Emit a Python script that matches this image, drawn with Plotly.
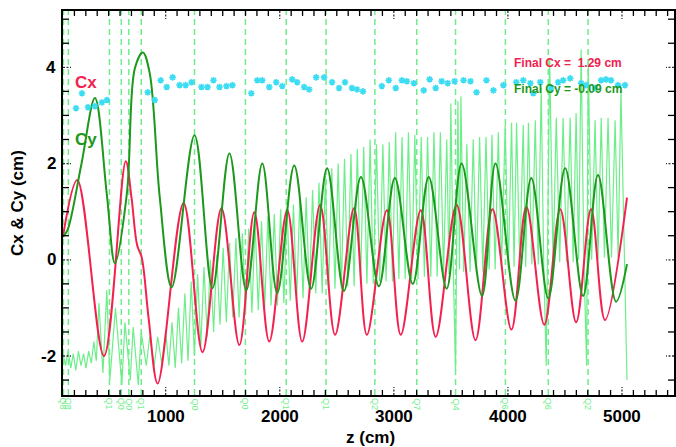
import plotly.graph_objects as go

# ---- beam centroid Cx along z (cm) ----
cx_z = [100, 225, 459, 650, 700, 750, 790, 850, 930, 1157, 1323, 1489, 1646, 1777,
        1908, 2066, 2197, 2354, 2485, 2651, 2764, 2939, 3061, 3236, 3367, 3550, 3716,
        3865, 4031, 4162, 4319, 4459, 4598, 4729, 4851, 5044]
cx_v = [0.49, 1.66, -2.0, 2.05, 1.3, 0.3, 0.05, -1.2, -2.57, 1.18, -1.92, 1.07, -1.77, 0.99,
        -1.7, 1.03, -1.7, 1.14, -1.56, 1.07, -1.56, 1.03, -1.56, 1.03, -1.6, 1.14, -1.67,
        1.05, -1.45, 1.1, -1.35, 1.05, -1.3, 1.05, -1.25, 1.29]

# ---- beam centroid Cy along z (cm) ----
cy_z = [100, 140, 260, 380, 485, 555, 660, 730, 800, 860, 948, 1053, 1253, 1410, 1559,
        1707, 1847, 1978, 2127, 2275, 2415, 2563, 2712, 2869, 3009, 3166, 3306, 3463,
        3594, 3773, 3891, 4066, 4205, 4354, 4502, 4659, 4790, 4948, 5044]
cy_v = [0.48, 0.62, 1.97, 3.36, 1.34, -0.07, 1.38, 3.98, 4.31, 3.88, 1.3, -0.57, 2.59, -0.59, 2.21,
        -0.63, 2.0, -0.69, 1.96, -0.6, 1.9, -0.65, 1.72, -0.55, 1.7, -0.5, 1.72, -0.6,
        2.0, -0.75, 2.0, -0.85, 1.7, -0.8, 1.9, -0.75, 1.76, -0.87, -0.09]

# ---- fast oscillating trace (extrema along z) ----
osc_z = [100, 122, 145, 168, 190, 212, 235, 258, 280, 302, 325, 348, 370, 392, 415,
         450, 484, 511, 560, 616, 643, 690, 715, 760, 785, 830, 860, 900, 930, 965,
         1000, 1028, 1056, 1084, 1112, 1140, 1168, 1196,
         1224, 1252, 1280, 1308, 1336, 1364, 1392, 1420,
         1448, 1476, 1504, 1532, 1560, 1588, 1616, 1644,
         1672, 1700, 1728, 1756, 1784, 1812, 1840, 1868,
         1896, 1924, 1952, 1980, 2008, 2036, 2064, 2092,
         2120, 2148, 2176, 2204, 2232, 2260, 2288, 2316,
         2344, 2372, 2400, 2428, 2456, 2484, 2512, 2540,
         2568, 2596, 2624, 2652, 2680, 2708, 2736, 2764,
         2792, 2820, 2848, 2876, 2904, 2932, 2960, 2988,
         3016, 3044, 3072, 3100, 3128, 3156, 3184, 3212,
         3240, 3268, 3296, 3324, 3352, 3380, 3408, 3436,
         3464, 3484, 3500, 3522, 3541, 3562, 3576, 3588, 3612, 3640, 3668,
         3696, 3724, 3752, 3780, 3808, 3836, 3860, 3888,
         3916, 3944, 3976, 4004, 4032, 4054, 4076, 4104,
         4134, 4156, 4180, 4210, 4240, 4266, 4292, 4314,
         4336, 4366, 4396, 4424, 4454, 4484, 4514, 4546,
         4572, 4598, 4620, 4642, 4666, 4690, 4704, 4734,
         4764, 4790, 4818, 4846, 4878, 4908, 4940, 4966,
         4991, 5044]
osc_v = [-1.95, -2.2, -1.9, -2.25, -1.95, -2.3, -1.9, -2.2, -1.95, -2.25, -1.9, -2.15, -1.7, -2.1, -0.9,
         -2.35, -0.63, -2.5, -1.0, -2.6, -1.3, -2.5, -1.4, -2.6, -1.5, -2.2, -1.6, -2.2, -1.6, -2.15,
         -1.5, -2.2, -1.3, -2.25, -1.0, -2.15, -0.7, -2.1,
         -0.45, -2.0, -0.3, -1.8, -0.15, -1.6, 0.0, -1.5,
         0.1, -1.35, 0.25, -1.3, 0.35, -1.2, 0.45, -1.2,
         0.55, -1.1, 0.65, -1.1, 0.75, -1.05, 0.8, -1.0,
         0.9, -0.95, 0.95, -0.95, 1.05, -0.9, 1.1, -0.85,
         1.15, -0.85, 1.25, -0.8, 1.3, -0.75, 1.45, -0.7,
         1.6, -0.7, 1.75, -0.65, 1.9, -0.6, 2.0, -0.6,
         2.1, -0.55, 2.2, -0.55, 2.3, -0.5, 2.35, -0.5,
         2.5, -0.5, 2.4, -0.45, 2.4, -0.45, 2.45, -0.45,
         2.65, -0.4, 2.55, -0.4, 2.65, -0.4, 2.6, -0.4,
         2.55, -0.35, 2.55, -0.35, 2.65, -0.35, 2.65, -0.3,
         2.5, -0.3, 3.25, -0.3, -2.3, 3.3, -0.2, 3.4, -0.25, 2.4, -0.25,
         2.5, -0.25, 2.55, -0.25, 2.55, -0.2, 2.6, -0.2,
         2.65, -0.2, 2.8, -0.2, 2.85, -0.15, 2.85, -0.15,
         2.8, -0.15, 2.85, -0.1, 2.9, -0.1, 3.58, -0.1,
         -2.2, 4.2, -0.1, 2.95, -0.05, 2.95, -0.05, 2.95,
         -0.05, 3.05, 0.0, 4.37, 0.0, -2.2, 4.12, 0.0,
         2.9, 0.0, 2.95, 0.05, 2.95, 0.05, 2.9, 0.05,
         3.52, -2.5]

# ---- marker series ----
star_z = [214, 266, 319, 380, 441, 485,
          843, 904, 956, 1009, 1061, 1122, 1175, 1227, 1314, 1367, 1419, 1472, 1533, 1585,
          1751, 1803, 1847, 1908, 1969, 2022, 2109, 2153, 2214, 2258, 2319, 2389, 2459,
          2520, 2572, 2633, 2677, 2729,
          2895, 2956, 3017, 3070, 3114, 3175, 3262, 3314, 3367, 3419, 3472, 3533, 3611,
          3672, 3725, 3812, 3873, 3961, 4074, 4135, 4197, 4223, 4284, 4380, 4441, 4485,
          4546, 4642, 4686, 4764, 4817, 4860, 4904, 4965, 5026]
star_v = [3.15, 3.46, 3.17, 3.19, 3.27, 3.32,
          3.48, 3.32, 3.73, 3.59, 3.79, 3.63, 3.63, 3.69, 3.59, 3.59, 3.73, 3.59, 3.61, 3.63,
          3.46, 3.73, 3.73, 3.59, 3.69, 3.61, 3.75, 3.69, 3.59, 3.54, 3.79, 3.79, 3.69,
          3.57, 3.69, 3.57, 3.54, 3.50,
          3.61, 3.73, 3.57, 3.73, 3.71, 3.67, 3.52, 3.75, 3.57, 3.71, 3.67, 3.71, 3.73,
          3.71, 3.48, 3.73, 3.52, 3.63, 3.69, 3.73, 3.67, 3.46, 3.69, 3.57, 3.69, 3.73,
          3.77, 3.67, 3.63, 3.57, 3.73, 3.75, 3.73, 3.63, 3.63]

# ---- quadrupole positions (cm) and names ----
quad_z = [104, 147, 507, 611, 677, 786, 1253, 1699, 2057, 2406, 2834, 3201, 3541, 3978, 4354, 4703]
quad_names = ["Q8", "Q8", "Q1", "Q0", "Q0", "Q1", "Q0", "Q0", "Q1", "Q1",
              "Q2", "Q7", "Q4", "Q6", "Q6", "Q2"]

# ---- axes ----
x_range = [100, 5456]
y_range = [-2.81, 5.17]
x_tick_vals = [1000, 2000, 3000, 4000, 5000]
x_tick_text = ["1000", "2000", "3000", "4000", "5000"]
y_tick_vals = [-2, 0, 2, 4]
y_tick_text = ["-2", "0", "2", "4"]
x_minor_step = 100
y_minor_step = 0.5

RED = "#f2214f"
GREEN = "#1c981c"
PALE = "#6eee8a"
CYAN = "#3cdcf2"
FONT = "Liberation Sans, Arial, sans-serif"

W, H = 676, 447
M = dict(l=63, r=0, t=11, b=52)
PLOT_W = W - M["l"] - M["r"]
PLOT_H = H - M["t"] - M["b"]

fig = go.Figure()

fig.add_trace(go.Scatter(x=osc_z, y=osc_v, mode="lines",
                         line=dict(color=PALE, width=1.2), hoverinfo="skip"))
fig.add_trace(go.Scatter(x=cx_z, y=cx_v, mode="lines",
                         line=dict(color=RED, width=2, shape="spline", smoothing=1.0)))
fig.add_trace(go.Scatter(x=cy_z, y=cy_v, mode="lines",
                         line=dict(color=GREEN, width=2, shape="spline", smoothing=1.0)))
fig.add_trace(go.Scatter(x=star_z, y=star_v, mode="markers",
                         marker=dict(symbol="asterisk-open", size=5.5, color=CYAN,
                                     line=dict(color=CYAN, width=1.6))))

for qz, qn in zip(quad_z, quad_names):
    fig.add_shape(type="line", xref="x", yref="paper", x0=qz, x1=qz, y0=0, y1=1,
                  line=dict(color=PALE, width=1.5, dash="6px,4px"), layer="below")
    fig.add_annotation(x=qz, xref="x", y=0, yref="paper", text=qn, textangle=90,
                       showarrow=False, yanchor="top", xanchor="center", yshift=-1,
                       font=dict(family=FONT, size=9, color=PALE))


# inward tick marks on all four frame edges
def x_tick(v, length, style):
    for y0, sign in ((0, 1), (1, -1)):
        fig.add_shape(type="line", xref="x", yref="paper", x0=v, x1=v,
                      y0=y0, y1=y0 + sign * length / PLOT_H, line=style, layer="above")


def y_tick(v, length, style):
    for x0, sign in ((0, 1), (1, -1)):
        fig.add_shape(type="line", xref="paper", yref="y", y0=v, y1=v,
                      x0=x0, x1=x0 + sign * length / PLOT_W, line=style, layer="above")


minor_style = dict(color="black", width=1.3)
major_style = dict(color="#333333", width=1.3, dash="2px,1.5px")

v = (x_range[0] // x_minor_step + 1) * x_minor_step
while v < x_range[1]:
    if v in x_tick_vals:
        x_tick(v, 8, major_style)
    else:
        x_tick(v, 5, minor_style)
    v += x_minor_step

v = -2.5
while v < y_range[1]:
    if v in y_tick_vals:
        y_tick(v, 8, major_style)
    else:
        y_tick(v, 6, minor_style)
    v += y_minor_step

# tick labels
for tv, tt in zip(x_tick_vals, x_tick_text):
    fig.add_annotation(x=tv, xref="x", y=0, yref="paper", yshift=-21, yanchor="middle",
                       text="<b>%s</b>" % tt, showarrow=False,
                       font=dict(family=FONT, size=17, color="black"))
for tv, tt in zip(y_tick_vals, y_tick_text):
    fig.add_annotation(x=0, xref="paper", xshift=-5, xanchor="right", y=tv, yref="y",
                       yanchor="middle", text="<b>%s</b>" % tt, showarrow=False,
                       font=dict(family=FONT, size=17, color="black"))

# curve labels
fig.add_annotation(x=301, y=3.69, text="<b>Cx</b>", showarrow=False,
                   font=dict(family=FONT, size=17, color=RED))
fig.add_annotation(x=301, y=2.5, text="<b>Cy</b>", showarrow=False,
                   font=dict(family=FONT, size=17, color=GREEN))
fig.add_annotation(x=4040, y=4.09, xanchor="left",
                   text="<b>Final Cx = \u00a0%.2f cm</b>" % cx_v[-1], showarrow=False,
                   font=dict(family=FONT, size=12, color=RED))
fig.add_annotation(x=4040, y=3.55, xanchor="left",
                   text="<b>Final Cy = %.2f cm</b>" % cy_v[-1], showarrow=False,
                   font=dict(family=FONT, size=12, color=GREEN))

# axis titles
fig.add_annotation(xref="paper", yref="paper", x=0.5025, y=0, yshift=-42,
                   text="<b>z (cm)</b>", showarrow=False, yanchor="middle",
                   font=dict(family=FONT, size=17, color="black"))
fig.add_annotation(xref="paper", yref="paper", x=0, xshift=-46, y=0.5,
                   text="<b>Cx &amp; Cy (cm)</b>", textangle=-90, showarrow=False,
                   xanchor="center", yanchor="middle",
                   font=dict(family=FONT, size=17, color="black"))

fig.update_layout(
    width=W, height=H,
    margin=M,
    paper_bgcolor="white", plot_bgcolor="white",
    showlegend=False,
    xaxis=dict(range=x_range, ticks="", showticklabels=False,
               showline=True, linecolor="black", linewidth=2, mirror=True,
               showgrid=False, zeroline=False),
    yaxis=dict(range=y_range, ticks="", showticklabels=False,
               showline=True, linecolor="black", linewidth=2, mirror=True,
               showgrid=False, zeroline=False),
)

fig.write_html("out.html")
